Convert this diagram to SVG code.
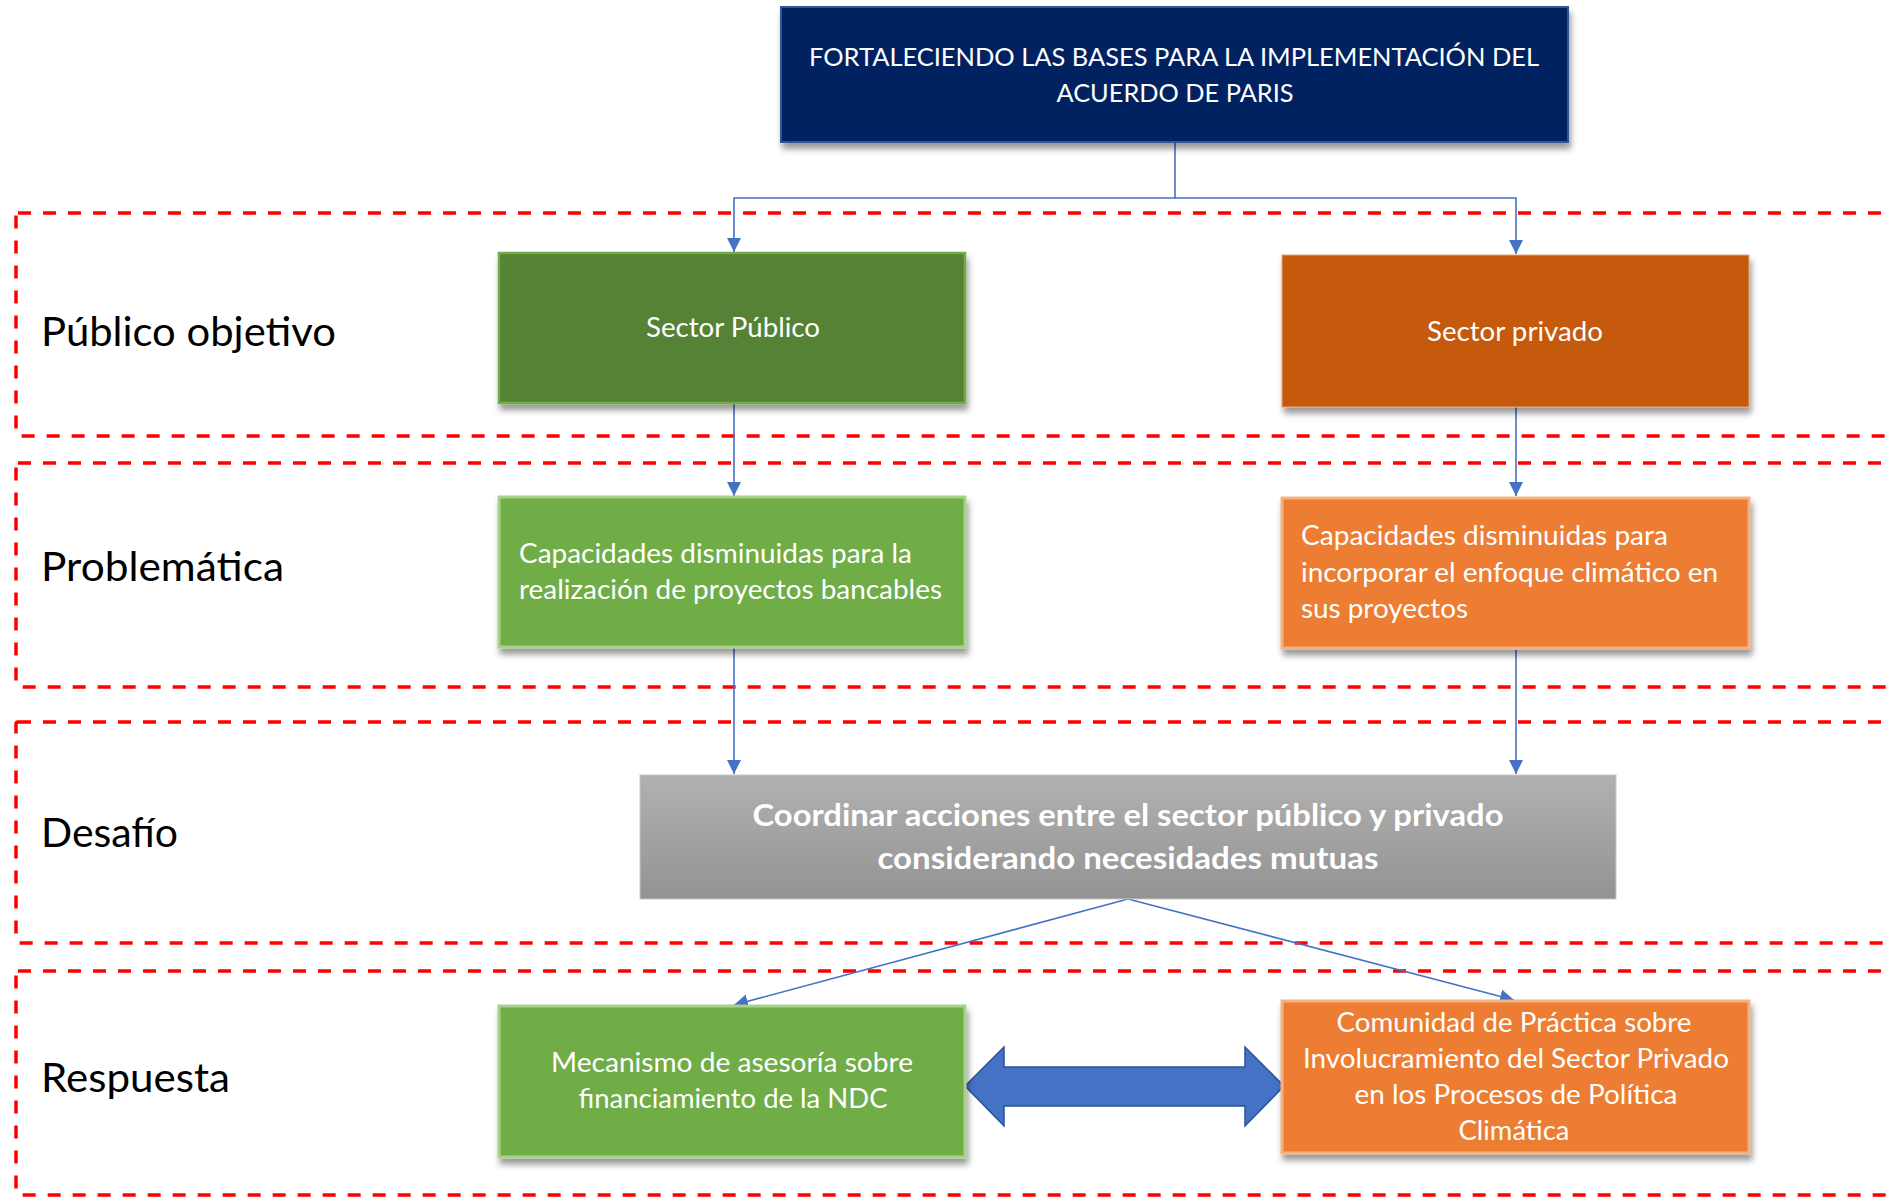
<svg xmlns="http://www.w3.org/2000/svg" width="1887" height="1197" viewBox="0 0 1887 1197">
  <defs>
    <style>
      .band { fill: none; stroke: #FF0000; stroke-width: 3.5; stroke-dasharray: 13 12; }
      .lbl { font-family: Lato, "Liberation Sans", sans-serif; font-size: 41px; fill: #000000; }
      .txt { font-family: Lato, "Liberation Sans", sans-serif; font-size: 27px; fill: #FFFFFF; }
      .hdr { font-family: Lato, "Liberation Sans", sans-serif; font-size: 25px; fill: #FFFFFF; }
      .bold { font-family: Lato, "Liberation Sans", sans-serif; font-size: 31px; font-weight: bold; fill: #FFFFFF; }
      .mid { text-anchor: middle; }
      .conn { fill: none; stroke: #4472C4; stroke-width: 1.6; }
      .green { fill: #70AD47; stroke: #A9D18E; stroke-width: 3; }
      .orange { fill: #ED7D31; stroke: #F4B183; stroke-width: 3; }
    </style>
    <marker id="arrow" viewBox="0 0 10 10" refX="10" refY="5" markerUnits="userSpaceOnUse" markerWidth="14" markerHeight="15" orient="auto">
      <path d="M0,0 L10,5 L0,10 Z" fill="#4472C4"/>
    </marker>
    <filter id="shadow" x="-5%" y="-10%" width="115%" height="135%">
      <feDropShadow dx="2" dy="6" stdDeviation="3" flood-color="#000000" flood-opacity="0.4"/>
    </filter>
    <linearGradient id="grayFill" x1="0" y1="0" x2="0" y2="1">
      <stop offset="0" stop-color="#B1B1B1"/>
      <stop offset="1" stop-color="#939393"/>
    </linearGradient>
  </defs>

  <rect width="1887" height="1197" fill="#FFFFFF"/>

  <!-- dashed row frames with their labels -->
  <g id="bands">
    <rect class="band" x="16" y="213" width="1900" height="223" rx="2"/>
    <rect class="band" x="16" y="463" width="1900" height="224" rx="2"/>
    <rect class="band" x="16" y="722" width="1900" height="221" rx="2"/>
    <rect class="band" x="16" y="971" width="1900" height="224" rx="2"/>
    <text class="lbl" x="41" y="346" textLength="295" lengthAdjust="spacingAndGlyphs">Público objetivo</text>
    <text class="lbl" x="41" y="581" textLength="243" lengthAdjust="spacingAndGlyphs">Problemática</text>
    <text class="lbl" x="41" y="847" textLength="137" lengthAdjust="spacingAndGlyphs">Desafío</text>
    <text class="lbl" x="41" y="1092" textLength="189" lengthAdjust="spacingAndGlyphs">Respuesta</text>
  </g>

  <!-- connectors -->
  <g id="connectors">
    <path class="conn" d="M1175,142 V198 H734 V252" marker-end="url(#arrow)"/>
    <path class="conn" d="M1175,198 H1516 V254" marker-end="url(#arrow)"/>
    <path class="conn" d="M734,403 V496" marker-end="url(#arrow)"/>
    <path class="conn" d="M1516,407 V496" marker-end="url(#arrow)"/>
    <path class="conn" d="M734,647 V774" marker-end="url(#arrow)"/>
    <path class="conn" d="M1516,650 V774" marker-end="url(#arrow)"/>
    <path class="conn" d="M1128,899 L734,1005" marker-end="url(#arrow)"/>
    <path class="conn" d="M1128,899 L1514,1000" marker-end="url(#arrow)"/>
    <polygon points="965,1086 1004,1047 1004,1067 1245,1067 1245,1047 1284,1086 1245,1126 1245,1106 1004,1106 1004,1126" fill="#4472C4" stroke="#2F528F" stroke-width="1.5"/>
  </g>

  <g id="title">
    <rect x="781" y="7" width="787" height="135" fill="#002060" stroke="#2F5597" stroke-width="2" filter="url(#shadow)"/>
    <text class="hdr mid" x="1174" y="66" textLength="730" lengthAdjust="spacingAndGlyphs">FORTALECIENDO LAS BASES PARA LA IMPLEMENTACIÓN DEL</text>
    <text class="hdr mid" x="1175" y="102" textLength="237" lengthAdjust="spacingAndGlyphs">ACUERDO DE PARIS</text>
  </g>

  <g id="sector-publico">
    <rect x="499" y="253" width="466" height="150" fill="#548235" stroke="#70AD47" stroke-width="2.5" filter="url(#shadow)"/>
    <text class="txt mid" x="733" y="337" textLength="174" lengthAdjust="spacingAndGlyphs">Sector Público</text>
  </g>

  <g id="sector-privado">
    <rect x="1282" y="255" width="467" height="152" fill="#C55A11" stroke="#E9A170" stroke-width="1" filter="url(#shadow)"/>
    <text class="txt mid" x="1515" y="341" textLength="176" lengthAdjust="spacingAndGlyphs">Sector privado</text>
  </g>

  <g id="problema-publico">
    <rect class="green" x="499" y="497" width="466" height="150" filter="url(#shadow)"/>
    <text class="txt" x="519" y="563" textLength="393" lengthAdjust="spacingAndGlyphs">Capacidades disminuidas para la</text>
    <text class="txt" x="519" y="599" textLength="423" lengthAdjust="spacingAndGlyphs">realización de proyectos bancables</text>
  </g>

  <g id="problema-privado">
    <rect class="orange" x="1282" y="498" width="467" height="150" filter="url(#shadow)"/>
    <text class="txt" x="1301" y="545" textLength="367" lengthAdjust="spacingAndGlyphs">Capacidades disminuidas para</text>
    <text class="txt" x="1301" y="582" textLength="417" lengthAdjust="spacingAndGlyphs">incorporar el enfoque climático en</text>
    <text class="txt" x="1301" y="618" textLength="167" lengthAdjust="spacingAndGlyphs">sus proyectos</text>
  </g>

  <g id="desafio">
    <rect x="640" y="775" width="976" height="124" fill="url(#grayFill)" stroke="#C8C8C8" stroke-width="1"/>
    <text class="bold mid" x="1128" y="826" textLength="751" lengthAdjust="spacingAndGlyphs">Coordinar acciones entre el sector público y privado</text>
    <text class="bold mid" x="1128" y="869" textLength="501" lengthAdjust="spacingAndGlyphs">considerando necesidades mutuas</text>
  </g>

  <g id="mecanismo">
    <rect class="green" x="499" y="1006" width="466" height="151" filter="url(#shadow)"/>
    <text class="txt mid" x="732" y="1072" textLength="362" lengthAdjust="spacingAndGlyphs">Mecanismo de asesoría sobre</text>
    <text class="txt mid" x="733" y="1108" textLength="309" lengthAdjust="spacingAndGlyphs">financiamiento de la NDC</text>
  </g>

  <g id="comunidad">
    <rect class="orange" x="1282" y="1001" width="467" height="152" filter="url(#shadow)"/>
    <text class="txt mid" x="1514" y="1032" textLength="355" lengthAdjust="spacingAndGlyphs">Comunidad de Práctica sobre</text>
    <text class="txt mid" x="1516" y="1068" textLength="426" lengthAdjust="spacingAndGlyphs">Involucramiento del Sector Privado</text>
    <text class="txt mid" x="1516" y="1104" textLength="323" lengthAdjust="spacingAndGlyphs">en los Procesos de Política</text>
    <text class="txt mid" x="1514" y="1140" textLength="111" lengthAdjust="spacingAndGlyphs">Climática</text>
  </g>
</svg>
